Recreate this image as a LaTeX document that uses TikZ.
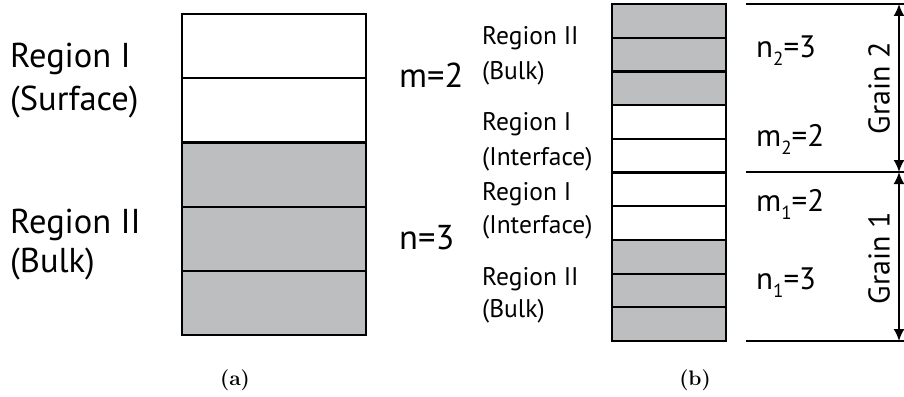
\documentclass[tikz,border=0pt]{standalone}
\usepackage{fontspec}
\newfontfamily\lblfont{PT Sans}
\usetikzlibrary{arrows.meta}
\definecolor{bulkgray}{RGB}{188,190,192}
\tikzset{
  x=1pt, y=-1pt,
  layer/.style={draw=black, line width=2.2pt, inner sep=0pt, outer sep=0pt,
    anchor=north west, minimum width=#1},
  bigtxt/.style={font=\lblfont\fontsize{34.5}{40}\selectfont, inner sep=0pt, anchor=base west},
  smalltxt/.style={font=\lblfont\fontsize{25.5}{30}\selectfont, inner sep=0pt, anchor=base west},
  numtxt/.style={font=\lblfont\fontsize{31}{34}\selectfont, inner sep=0pt, anchor=base west},
  graintxt/.style={font=\lblfont\fontsize{30}{34}\selectfont, inner sep=0pt, rotate=90},
  captxt/.style={inner sep=0pt, anchor=base},
  grainline/.style={line width=2.2pt},
  grainarrow/.style={line width=1.8pt, {Latex[length=12pt,width=11pt]}-{Latex[length=12pt,width=11pt]}},
}
\newcommand{\sbs}[1]{\raisebox{-8pt}{\fontsize{19}{19}\selectfont #1}}
\newcommand{\captext}[1]{{\fontsize{21}{25}\selectfont\bfseries #1}}
\begin{document}
\begin{tikzpicture}
\useasboundingbox (0,0) rectangle (904,396);

% (a): one surface region (2 layers) over bulk (3 layers)
\foreach \i/\c in {1/white,2/white,3/bulkgray,4/bulkgray,5/bulkgray}{
  \node[layer=184pt, minimum height=64.2pt, fill=\c] (a\i) at (182,{14+64.2*(\i-1)}) {};
}
\node[bigtxt] (aI1) at (10,67) {Region I};
\node[bigtxt] (aI2) at (10,110) {(Surface)};
\node[bigtxt] (aII1) at (10,233) {Region II};
\node[bigtxt] (aII2) at (10,272) {(Bulk)};

% (b): two grains, each with interface and bulk layers
\foreach \i/\c in {1/bulkgray,2/bulkgray,3/bulkgray,4/white,5/white,6/white,7/white,8/bulkgray,9/bulkgray,10/bulkgray}{
  \node[layer=114pt, minimum height=33.7pt, fill=\c] (b\i) at (612,{4+33.7*(\i-1)}) {};
}
\node[bigtxt] (mlab) at (399,87) {m=2};
\node[bigtxt] (nlab) at (399,249) {n=3};

\node[smalltxt] (r1a) at (482,45) {Region II};
\node[smalltxt] (r1b) at (482,79) {(Bulk)};
\node[smalltxt] (r2a) at (482,130) {Region I};
\node[smalltxt] (r2b) at (482,165) {(Interface)};
\node[smalltxt] (r3a) at (482,200) {Region I};
\node[smalltxt] (r3b) at (482,233) {(Interface)};
\node[smalltxt] (r4a) at (482,285) {Region II};
\node[smalltxt] (r4b) at (482,317) {(Bulk)};

\node[numtxt] (n2) at (756,58) {n\sbs{2}=3};
\node[numtxt] (m2) at (756,146) {m\sbs{2}=2};
\node[numtxt] (m1) at (756,211) {m\sbs{1}=2};
\node[numtxt] (n1) at (756,289) {n\sbs{1}=3};

% grain boundaries and extents
\coordinate (t0) at (746,4);   \coordinate (t1) at (904,4);
\coordinate (c0) at (746,172); \coordinate (c1) at (904,172);
\coordinate (d0) at (746,341); \coordinate (d1) at (904,341);
\draw[grainline] (t0) -- (t1);
\draw[grainline] (c0) -- (c1);
\draw[grainline] (d0) -- (d1);
\coordinate (at) at (899,4);
\coordinate (ac) at (899,172);
\coordinate (ad) at (899,341);
\draw[grainarrow] (at) -- (ac);
\draw[grainarrow] (ac) -- (ad);
\node[graintxt] (g2) at (879,88) {Grain 2};
\node[graintxt] (g1) at (879,258) {Grain 1};

\node[captxt] (capa) at (235,385) {\captext{(a)}};
\node[captxt] (capb) at (695,385) {\captext{(b)}};
\end{tikzpicture}
\end{document}
